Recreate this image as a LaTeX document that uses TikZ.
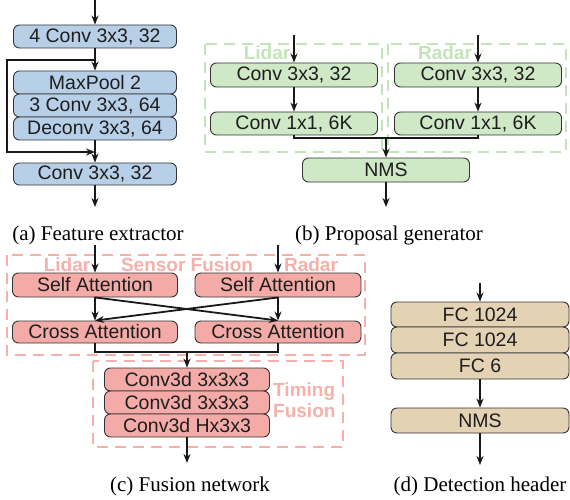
\documentclass[tikz,border=0pt]{standalone}
\usepackage{fontspec}
\setmainfont{Liberation Serif}
\setsansfont{Liberation Sans}
\usetikzlibrary{arrows.meta}
\definecolor{bluefill}{HTML}{B7D0E8}
\definecolor{greenfill}{HTML}{CFE8C6}
\definecolor{redfill}{HTML}{F4AAA6}
\definecolor{tanfill}{HTML}{E3D2B4}
\definecolor{greendash}{HTML}{C3E4B9}
\definecolor{reddash}{HTML}{F6B0AA}
\definecolor{boxline}{HTML}{333333}
\definecolor{txt}{HTML}{1E1E1E}
\tikzset{
  blk/.style={draw=boxline, line width=0.9pt, rounded corners=6pt, inner sep=0pt,
    text=txt, font=\sffamily\fontsize{19.5}{21}\selectfont},
  bluebox/.style={blk, fill=bluefill},
  greenbox/.style={blk, fill=greenfill},
  redbox/.style={blk, fill=redfill},
  tanbox/.style={blk, fill=tanfill},
  arr/.style={line width=1.8pt, draw=black!90, -{Stealth[length=9pt,width=7pt]}},
  ln/.style={line width=1.8pt, draw=black!90},
  gdash/.style={draw=greendash, line width=2pt, dash pattern=on 11pt off 7pt},
  rdash/.style={draw=reddash, line width=2pt, dash pattern=on 11pt off 7pt},
  glabel/.style={text=greendash, font=\sffamily\bfseries\fontsize{19}{20}\selectfont, inner sep=0pt},
  rlabel/.style={text=reddash, font=\sffamily\bfseries\fontsize{19}{20}\selectfont, inner sep=0pt},
  captxt/.style={font=\fontsize{21}{22}\selectfont, anchor=base, inner sep=0pt},
}
\begin{document}
\begin{tikzpicture}[x=1pt,y=-1pt]
\useasboundingbox (0,0) rectangle (570,500);

% ---------- (a) Feature extractor ----------
\coordinate (ain) at (95,0);
\node[bluebox, minimum width=163pt, minimum height=23pt] (a1) at (95,36.5) {4 Conv 3x3, 32};
\node[bluebox, minimum width=163pt, minimum height=23pt] (a2) at (95,82.5) {MaxPool 2};
\node[bluebox, minimum width=163pt, minimum height=23pt] (a3) at (95,105.5) {3 Conv 3x3, 64};
\node[bluebox, minimum width=163pt, minimum height=23pt] (a4) at (95,128.5) {Deconv 3x3, 64};
\node[bluebox, minimum width=163pt, minimum height=22pt] (a5) at (95,174) {Conv 3x3, 32};
\coordinate (aout) at (95,207);
\coordinate (asplit) at (95,60);
\coordinate (ajoin) at (95,152);
\draw[arr] (ain) -- (a1.north);
\draw[arr] (a1.south) -- (a2.north);
\draw[arr] (a4.south) -- (a5.north);
\draw[arr] (asplit) -- (7,60) -- (7,152) -- (ajoin);
\draw[arr] (a5.south) -- (aout);
\node[captxt] (capa) at (98,240) {(a) Feature extractor};

% ---------- (b) Proposal generator ----------
\draw[gdash] (205,44) rectangle (382,152);
\draw[gdash] (388,44) rectangle (566,152);
\node[glabel] (lidarb) at (267,53) {Lidar};
\node[glabel] (radarb) at (445,53) {Radar};
\coordinate (bLin) at (294,35);
\coordinate (bRin) at (478,35);
\node[greenbox, minimum width=167pt, minimum height=24pt] (bL1) at (294,75) {Conv 3x3, 32};
\node[greenbox, minimum width=167pt, minimum height=24pt] (bR1) at (478,75) {Conv 3x3, 32};
\node[greenbox, minimum width=167pt, minimum height=23pt] (bL2) at (294,123.5) {Conv 1x1, 6K};
\node[greenbox, minimum width=167pt, minimum height=23pt] (bR2) at (478,123.5) {Conv 1x1, 6K};
\node[greenbox, minimum width=167pt, minimum height=24pt] (bN) at (386,170) {NMS};
\coordinate (bmerge) at (386,138);
\coordinate (bout) at (386,207);
\draw[arr] (bLin) -- (bL1.north);
\draw[arr] (bRin) -- (bR1.north);
\draw[arr] (bL1.south) -- (bL2.north);
\draw[arr] (bR1.south) -- (bR2.north);
\draw[ln] (bL2.south) -- (294,138) -- (478,138) -- (bR2.south);
\draw[arr] (bmerge) -- (bN.north);
\draw[arr] (bN.south) -- (bout);
\node[captxt] (capb) at (389,240) {(b) Proposal generator};

% ---------- (c) Fusion network ----------
\draw[rdash] (7,255) rectangle (365,355);
\draw[rdash] (93,361) rectangle (343,447);
\node[rlabel] (lidarc) at (67,265) {Lidar};
\node[rlabel] (sensf) at (187,265) {Sensor Fusion};
\node[rlabel] (radarc) at (311,265) {Radar};
\node[rlabel, align=left, anchor=west, font=\sffamily\bfseries\fontsize{19}{20.5}\selectfont] (timf) at (273,400) {Timing\\Fusion};
\coordinate (cLin) at (95,245);
\coordinate (cRin) at (278,245);
\node[redbox, minimum width=165pt, minimum height=24pt] (cL1) at (95,285) {Self Attention};
\node[redbox, minimum width=166pt, minimum height=24pt] (cR1) at (278,285) {Self Attention};
\node[redbox, minimum width=165pt, minimum height=22pt] (cL2) at (95,332) {Cross Attention};
\node[redbox, minimum width=166pt, minimum height=22pt] (cR2) at (278,332) {Cross Attention};
\node[redbox, minimum width=165pt, minimum height=23pt] (c3) at (187,379.5) {Conv3d 3x3x3};
\node[redbox, minimum width=165pt, minimum height=23pt] (c4) at (187,402.5) {Conv3d 3x3x3};
\node[redbox, minimum width=165pt, minimum height=23pt] (c5) at (187,425.5) {Conv3d Hx3x3};
\coordinate (cmerge) at (187,352);
\coordinate (cout) at (187,463);
\draw[arr] (cLin) -- (cL1.north);
\draw[arr] (cRin) -- (cR1.north);
\draw[arr] (cL1.south) -- (cL2.north);
\draw[arr] (cR1.south) -- (cR2.north);
\draw[arr] (cL1.south) -- (cR2.north);
\draw[arr] (cR1.south) -- (cL2.north);
\draw[ln] (cL2.south) -- (95,352) -- (278,352) -- (cR2.south);
\draw[arr] (cmerge) -- (c3.north);
\draw[arr] (c5.south) -- (cout);
\node[captxt] (capc) at (190,491) {(c) Fusion network};

% ---------- (d) Detection header ----------
\coordinate (din) at (480,283);
\node[tanbox, minimum width=178pt, minimum height=25pt] (d1) at (480,314.5) {FC 1024};
\node[tanbox, minimum width=178pt, minimum height=26pt] (d2) at (480,340) {FC 1024};
\node[tanbox, minimum width=178pt, minimum height=26pt] (d3) at (480,366) {FC 6};
\node[tanbox, minimum width=178pt, minimum height=25pt] (dN) at (480,420.5) {NMS};
\coordinate (dout) at (480,465);
\draw[arr] (din) -- (d1.north);
\draw[arr] (d3.south) -- (dN.north);
\draw[arr] (dN.south) -- (dout);
\node[captxt] (capd) at (480,491) {(d) Detection header};
\end{tikzpicture}
\end{document}
